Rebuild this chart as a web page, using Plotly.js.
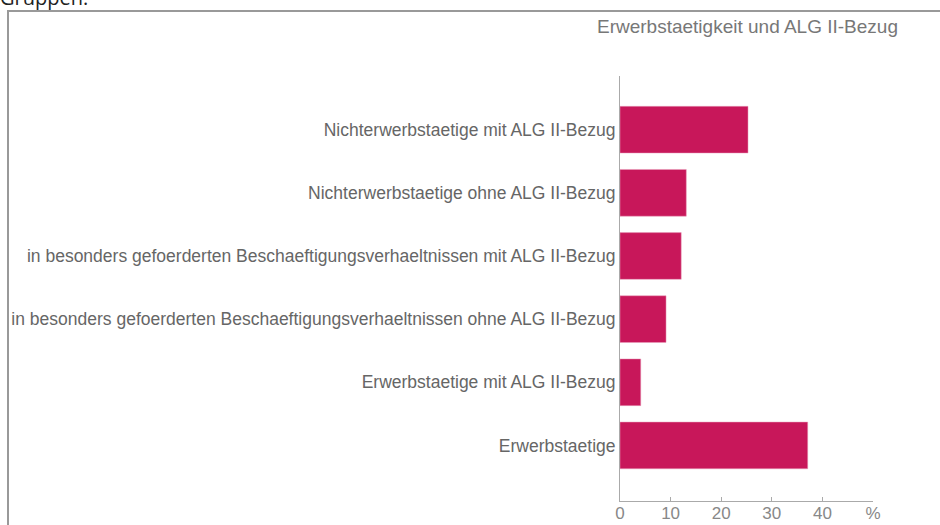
<!DOCTYPE html>
<html>
<head>
<meta charset="utf-8">
<script src="https://cdn.plot.ly/plotly-3.0.1.min.js"></script>
<style>
  body { margin: 0; background: #fff; overflow: hidden; }
  #head { position: absolute; left: 0; top: -16px; font-family: "Open Sans", sans-serif; font-size: 20px; color: #222; }
  #box { position: absolute; left: 7px; top: 10px; width: 1000px; height: 600px; border: 2px solid #999; box-sizing: border-box; }
  #myDiv { position: absolute; left: 0; top: 0; width: 940px; height: 525px; }
</style>
</head>
<body>
<div id="head">Gruppen.</div>
<div id="box"></div>
<div id="myDiv"></div>
<script>
// categories from bottom to top
var categories = [
  'Erwerbstaetige',
  'Erwerbstaetige mit ALG II-Bezug',
  'in besonders gefoerderten Beschaeftigungsverhaeltnissen ohne ALG II-Bezug',
  'in besonders gefoerderten Beschaeftigungsverhaeltnissen mit ALG II-Bezug',
  'Nichterwerbstaetige ohne ALG II-Bezug',
  'Nichterwerbstaetige mit ALG II-Bezug'
];
var shares = [37.1, 4.1, 9.1, 12.1, 13.1, 25.3];
var tickVals = [0, 10, 20, 30, 40, 50];
var tickText = ['0', '10', '20', '30', '40', '%'];

var data = [{
  type: 'bar',
  orientation: 'h',
  x: shares,
  y: categories,
  marker: {color: '#C8175A', line: {color: '#E8A0BC', width: 0.5}},
  hoverinfo: 'x+y'
}];

var layout = {
  width: 940,
  height: 525,
  margin: {l: 620, r: 67, t: 76, b: 24},
  paper_bgcolor: 'rgba(0,0,0,0)',
  plot_bgcolor: 'rgba(0,0,0,0)',
  showlegend: false,
  bargap: 0.26,
  font: {family: 'Liberation Sans, Arial, sans-serif', color: '#666'},
  title: {
    text: 'Erwerbstaetigkeit und ALG II-Bezug',
    font: {size: 19, color: '#777'},
    x: 898 / 940, xref: 'container', xanchor: 'right',
    y: 1 - 26 / 525, yref: 'container', yanchor: 'middle'
  },
  xaxis: {
    range: [0, 50],
    tickvals: tickVals,
    ticktext: tickText,
    ticks: 'inside',
    ticklen: 4,
    tickcolor: '#aaa',
    showline: true,
    linecolor: '#aaa',
    linewidth: 1,
    showgrid: false,
    zeroline: false,
    ticklabelstandoff: -3,
    tickfont: {size: 17, color: '#888'},
    fixedrange: true
  },
  yaxis: {
    type: 'category',
    range: [-0.88, 5.85],
    showline: true,
    linecolor: '#aaa',
    linewidth: 1,
    showgrid: false,
    ticks: '',
    ticklabelstandoff: 0,
    tickfont: {size: 17.5, color: '#666'},
    fixedrange: true
  }
};

Plotly.newPlot('myDiv', data, layout, {displayModeBar: false});
</script>
</body>
</html>
